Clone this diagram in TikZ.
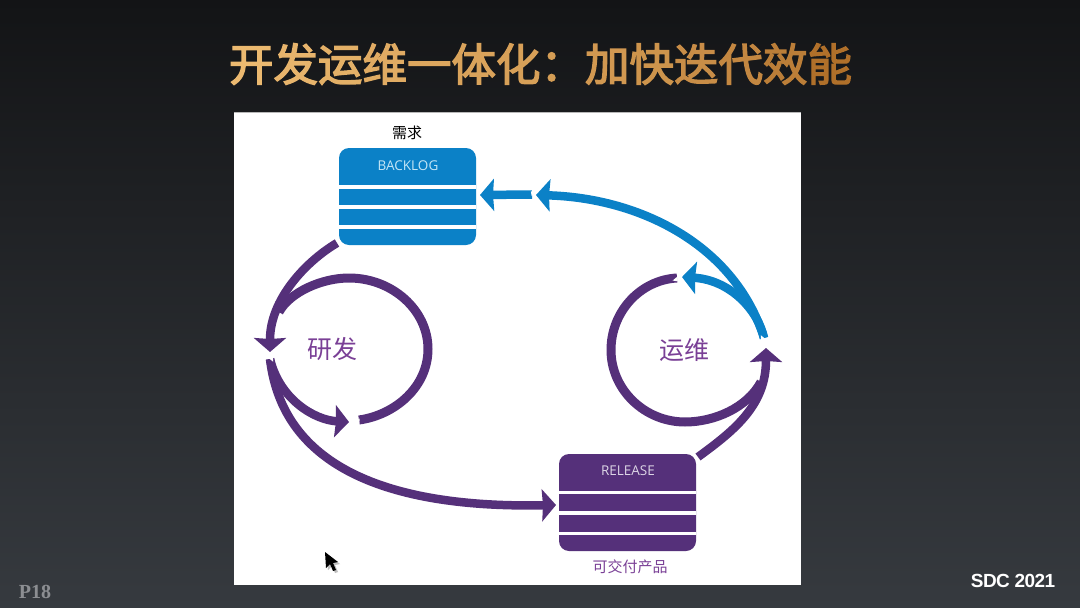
\documentclass[tikz,border=0pt]{standalone}
\usepackage{fontspec}
\setmainfont{Open Sans}
\newfontfamily\cjk{Noto Sans CJK SC}
\newfontfamily\titlefont[FakeBold=3]{Noto Sans CJK SC}
\newfontfamily\sdcfont[LetterSpace=-3]{Liberation Sans}
\newfontfamily\pagefont{Liberation Serif}
\usetikzlibrary{arrows.meta}
\definecolor{bgbottom}{HTML}{363A3F}
\definecolor{bgmid}{HTML}{222428}
\definecolor{bgtop}{HTML}{131416}
\definecolor{titleleft}{HTML}{EBB970}
\definecolor{titleright}{HTML}{AC6B26}
\definecolor{backlogblue}{HTML}{0B81C7}
\definecolor{releasepurple}{HTML}{55307A}
\definecolor{looplabel}{HTML}{7A4096}
\definecolor{backlogtext}{HTML}{C4E6F6}
\definecolor{releasetext}{HTML}{DDD6E6}
\definecolor{pagegray}{HTML}{8C8E92}
\definecolor{panelline}{HTML}{B8B8B8}
\newcommand{\titlechar}[2]{\textcolor{titleleft!#1!titleright}{#2}}
\tikzset{
  stack/.style={rectangle, rounded corners=10pt, minimum width=137pt, minimum height=97pt, inner sep=0pt},
  backlogstack/.style={stack, fill=backlogblue},
  releasestack/.style={stack, fill=releasepurple},
  stripe/.style={white, line width=3.6pt},
  stacklabel/.style={font=\fontsize{13.5}{16}\selectfont, inner sep=0pt},
  caption/.style={font=\cjk\fontsize{15}{18}\selectfont, inner sep=0pt},
  looptext/.style={font=\cjk\fontsize{25}{30}\selectfont, text=looplabel, inner sep=0pt},
  flowhead/.style={-{Stealth[inset=1pt, length=14pt, width=32pt]}},
  purpleflow/.style={flowhead, draw=releasepurple, line width=8.5pt},
  blueflow/.style={flowhead, draw=backlogblue, line width=8.5pt},
  purpleloop/.style={draw=releasepurple, line width=9pt},
  notch/.style={fill=white}
}
\begin{document}
\begin{tikzpicture}[x=1pt, y=-1pt]

\useasboundingbox (0,0) rectangle (1080,608);
\shade[top color=bgtop, middle color=bgmid, bottom color=bgbottom] (0,0) rectangle (1080,608);

\node[font=\titlefont\fontsize{44.5}{50}\selectfont, inner sep=0pt] (title) at (540.5,64) {\titlechar{100}{开}\titlechar{94}{发}\titlechar{88}{运}\titlechar{82}{维}\titlechar{76}{一}\titlechar{72}{体}\titlechar{68}{化}\titlechar{64}{：}\titlechar{58}{加}\titlechar{52}{快}\titlechar{44}{迭}\titlechar{36}{代}\titlechar{24}{效}\titlechar{6}{能}};

% White panel.
\fill[white] (234,112) rectangle (801,585);
\draw[panelline, line width=1pt] (234,112.5) -- (801,112.5);

% Stacks.
\node[backlogstack] (backlog) at (407.5,196.5) {};
\foreach \y in {186.7,207,227} {
  \draw[stripe] (339,\y) -- (476,\y);
}
\node[stacklabel, text=backlogtext] (backlogname) at (408,166) {BACKLOG};
\node[caption] (need) at (407,133) {需求};

\node[releasestack] (release) at (627.5,502.5) {};
\foreach \y in {492.3,513,533.3} {
  \draw[stripe] (559,\y) -- (696,\y);
}
\node[stacklabel, text=releasetext] (releasename) at (628,471) {RELEASE};
\node[caption, text=looplabel] (product) at (630,567) {可交付产品};

\node[looptext] (dev) at (332,349) {研发};
\node[looptext] (ops) at (684,350) {运维};

\coordinate (backlogout) at (337,243);
\coordinate (devtip) at (270,352);
\coordinate (devstart) at (270,359);
\coordinate (devloop) at (349,422);
\coordinate (looptail) at (359,420);
\coordinate (loophead) at (279,312);
\coordinate (releasein) at (556,505);
\coordinate (releaseout) at (698,457);
\coordinate (opstip) at (766,348);
\coordinate (opsstart) at (764,338);
\coordinate (opsloop) at (682,277);
\coordinate (opstail) at (677,278);
\coordinate (opsmerge) at (761,382);
\coordinate (backtip) at (536,195);
\coordinate (backstart) at (532,194.5);
\coordinate (backin) at (480,195);

% Development loop.
\draw[purpleflow] (backlogout) .. controls (305,262) and (270,300) .. (devtip);
\draw[purpleloop] (loophead) .. controls (290,292) and (322,278) .. (349,278) .. controls (392,278) and (428,310) .. (428,349) .. controls (428,387) and (395,415) .. (looptail);
\draw[purpleflow] (devstart) .. controls (280,400) and (315,420) .. (devloop);
\draw[purpleflow] (devstart) .. controls (284,478) and (410,508) .. (releasein);

% Operations loop.
\draw[purpleflow] (releaseout) .. controls (735,430) and (766,405) .. (opstip);
\draw[purpleloop] (opstail) .. controls (640,280) and (611,312) .. (611,350) .. controls (611,390) and (645,422) .. (685,422) .. controls (714,422) and (747,408) .. (opsmerge);
\draw[blueflow] (opsstart) .. controls (735,245) and (640,198) .. (backtip);
\draw[blueflow] (opsstart) .. controls (758,310) and (730,280) .. (opsloop);
\draw[blueflow] (backstart) -- (backin);

% Small cut-outs at the line ends.
\foreach \x/\y/\a in {270/358/90,359/420/195,677/278/190,764/339/-90,532/194.5/0} {
  \fill[notch] (\x,\y) ++(\a-40:5) -- ++(\a+180:5) -- ++(\a+80:5) -- cycle;
}

% Pointer.
\fill[black!25] (327,554) -- (328,570) -- (332,566) -- (335,573) -- (338,572) -- (335,565) -- (340,564) -- cycle;
\fill[black] (325,552) -- (326,568) -- (330,564) -- (333,571) -- (336,570) -- (333,563) -- (338,562) -- cycle;

\node[font=\sdcfont\bfseries\fontsize{19}{22}\selectfont, text=white, inner sep=0pt] (sdc) at (1013,581) {SDC 2021};
\node[font=\pagefont\bfseries\fontsize{20}{24}\selectfont, text=pagegray, inner sep=0pt] (page) at (35,592) {P18};

\end{tikzpicture}
\end{document}
